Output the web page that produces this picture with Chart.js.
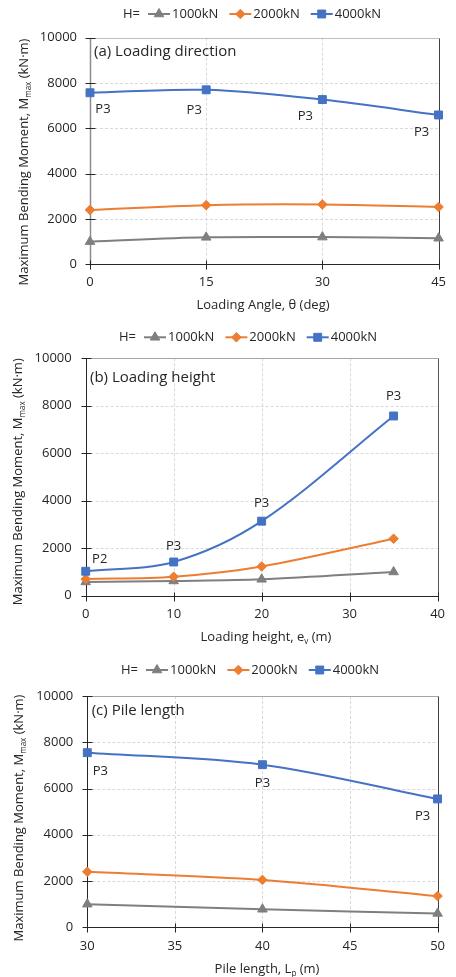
<!DOCTYPE html>
<html><head><meta charset="utf-8">
<script src="https://cdn.jsdelivr.net/npm/chart.js@4/dist/chart.umd.min.js"></script>
<style>
html,body{margin:0;padding:0;background:#fff;width:456px;height:977px;overflow:hidden;}
.wrap{position:absolute;left:0;width:456px;}
canvas{display:block;}
</style></head><body>
<div class="wrap" style="top:0"><canvas id="ca" width="456" height="325"></canvas></div>
<div class="wrap" style="top:325px"><canvas id="cb" width="456" height="325"></canvas></div>
<div class="wrap" style="top:650px"><canvas id="cc" width="456" height="327"></canvas></div>
<script>
// ---------- DATA ----------
const seriesNames = ['1000kN', '2000kN', '4000kN'];
const yTickValues = [0, 2000, 4000, 6000, 8000, 10000];

// (a) Loading direction
const angleDeg = [0, 15, 30, 45];
const angle1000 = [1000, 1190, 1200, 1150];
const angle2000 = [2400, 2610, 2640, 2530];
const angle4000 = [7570, 7700, 7270, 6590];
const angleLabels4000 = ['P3', 'P3', 'P3', 'P3'];

// (b) Loading height
const heightM = [0, 10, 20, 35];
const height1000 = [580, 620, 690, 1000];
const height2000 = [700, 800, 1230, 2400];
const height4000 = [1030, 1420, 3140, 7570];
const heightLabels4000 = ['P2', 'P3', 'P3', 'P3'];

// (c) Pile length
const lengthM = [30, 40, 50];
const length1000 = [1000, 780, 600];
const length2000 = [2400, 2050, 1350];
const length4000 = [7550, 7030, 5550];
const lengthLabels4000 = ['P3', 'P3', 'P3'];

// ---------- STYLE ----------
const FONT = "'Open Sans', 'DejaVu Sans', sans-serif";
const TEXT = '#262626';
const COLORS = ['#7f7f7f', '#ed7d31', '#4472c4'];
const STYLES = ['triangle', 'rectRot', 'rect'];
const RADII = [5.5, 4.8, 5.6];

function drawRich(ctx, segs, x, y, size, color) {
  let w = 0; const ws = [];
  for (const s of segs) {
    ctx.font = (s.sub ? size * 0.62 : size) + 'px ' + FONT;
    const m = ctx.measureText(s.t).width; ws.push(m); w += m;
  }
  let cx = x - w / 2;
  ctx.textAlign = 'left'; ctx.textBaseline = 'alphabetic'; ctx.fillStyle = color;
  const base = y + size * 0.36;
  segs.forEach((s, i) => {
    ctx.font = (s.sub ? size * 0.62 : size) + 'px ' + FONT;
    ctx.fillText(s.t, cx, base + (s.sub ? size * 0.22 : 0));
    cx += ws[i];
  });
}

const decor = {
  id: 'decor',
  beforeDatasetsDraw(chart, args, o) {
    const { ctx, chartArea: a, scales: { x, y } } = chart;
    const L = (x1, y1, x2, y2) => { ctx.beginPath(); ctx.moveTo(x1, y1); ctx.lineTo(x2, y2); ctx.stroke(); };
    ctx.save();
    ctx.lineWidth = 1; ctx.strokeStyle = '#d9d9d9'; ctx.setLineDash([3, 2]);
    x.ticks.forEach(t => { const p = Math.round(x.getPixelForValue(t.value)) + 0.5; if (p > a.left + 2 && p < a.right - 2) L(p, a.top, p, a.bottom); });
    y.ticks.forEach(t => { const p = Math.round(y.getPixelForValue(t.value)) + 0.5; if (p > a.top + 2 && p < a.bottom - 2) L(a.left, p, a.right, p); });
    ctx.setLineDash([]);
    const l = Math.round(a.left) + 0.5, r = Math.round(a.right) + 0.5, t = Math.round(a.top) + 0.5, b = Math.round(a.bottom) + 0.5;
    ctx.strokeStyle = o.topColor; L(l, t, r, t);
    ctx.strokeStyle = o.rightColor; L(r, t, r, b);
    ctx.strokeStyle = o.bottomColor; L(l - 1, b, r, b);
    ctx.lineWidth = o.leftWidth; ctx.strokeStyle = o.leftColor; L(l, t, l, b + 1);
    ctx.lineWidth = 1; ctx.strokeStyle = '#262626';
    y.ticks.forEach(tk => { const p = Math.round(y.getPixelForValue(tk.value)) + 0.5; L(l - 5, p, l + 5, p); });
    x.ticks.forEach(tk => { const p = Math.round(x.getPixelForValue(tk.value)) + 0.5; L(p, b - 4, p, b + 5); });
    ctx.restore();
  },
  afterDatasetsDraw(chart, args, o) {
    const { ctx } = chart;
    ctx.save();
    const meta = chart.getDatasetMeta(o.labelDataset);
    ctx.font = '13px ' + FONT; ctx.fillStyle = TEXT; ctx.textAlign = 'center'; ctx.textBaseline = 'middle';
    o.labels.forEach((txt, i) => {
      const pt = meta.data[i];
      ctx.fillText(txt, pt.x + o.labelOffsets[i][0], pt.y + o.labelOffsets[i][1]);
    });
    ctx.font = '15px ' + FONT; ctx.textAlign = 'left';
    ctx.fillText(o.panelTitle, o.panelPos[0], o.panelPos[1]);
    ctx.font = '13px ' + FONT;
    let lx = o.legendPos[0]; const ly = o.legendPos[1];
    ctx.fillText('H=', lx, ly); lx += ctx.measureText('H=').width + 8;
    chart.data.datasets.forEach((ds, i) => {
      ctx.strokeStyle = ds.borderColor; ctx.fillStyle = ds.backgroundColor; ctx.lineWidth = 2;
      ctx.beginPath(); ctx.moveTo(lx, ly); ctx.lineTo(lx + 22, ly); ctx.stroke();
      ctx.lineWidth = 1;
      Chart.helpers.drawPoint(ctx, { pointStyle: ds.pointStyle, radius: ds.pointRadius, rotation: 0, borderWidth: 1 }, lx + 11, ly);
      lx += 24;
      ctx.fillStyle = TEXT;
      ctx.fillText(ds.label, lx, ly);
      lx += ctx.measureText(ds.label).width + 11;
    });
    drawRich(ctx, o.xTitle, o.xTitlePos[0], o.xTitlePos[1], 13, TEXT);
    ctx.save();
    ctx.translate(o.yTitlePos[0], o.yTitlePos[1]); ctx.rotate(-Math.PI / 2);
    drawRich(ctx, o.yTitle, 0, 0, 13, TEXT);
    ctx.restore();
    ctx.restore();
  }
};

const yTitleSegs = [{ t: 'Maximum Bending Moment, M' }, { t: 'max', sub: true }, { t: ' (kN·m)' }];

function makeChart(id, xs, series, c) {
  const canvas = document.getElementById(id);
  const H = canvas.height, W = canvas.width;
  const datasets = series.map((vals, i) => ({
    label: seriesNames[i],
    data: xs.map((xv, j) => ({ x: xv, y: vals[j] })),
    borderColor: COLORS[i], backgroundColor: COLORS[i],
    borderWidth: 2, tension: 0.33,
    pointStyle: STYLES[i], pointRadius: RADII[i], pointBorderWidth: 1,
    pointBackgroundColor: COLORS[i], pointBorderColor: COLORS[i],
    clip: false, order: 2 - i
  }));
  return new Chart(canvas, {
    type: 'line',
    data: { datasets },
    plugins: [decor],
    options: {
      responsive: false, animation: false, devicePixelRatio: 1,
      layout: { autoPadding: false, padding: { left: 0, top: c.plot.top, right: W - c.plot.right, bottom: 0 } },
      scales: {
        x: {
          type: 'linear', min: c.xMin, max: c.xMax,
          afterFit: s => { s.height = H - c.plot.bottom; },
          afterBuildTicks: s => { s.ticks = c.xTicks.map(v => ({ value: v })); },
          grid: { display: false, drawTicks: false }, border: { display: false },
          ticks: { font: { family: FONT, size: 13 }, color: TEXT, padding: c.xPad, maxRotation: 0, autoSkip: false, callback: v => String(v) }
        },
        y: {
          type: 'linear', min: 0, max: 10000,
          afterFit: s => { s.width = c.plot.left; },
          afterBuildTicks: s => { s.ticks = yTickValues.map(v => ({ value: v })); },
          grid: { display: false, drawTicks: false }, border: { display: false },
          ticks: { font: { family: FONT, size: 13 }, color: TEXT, padding: c.yPad, callback: v => String(v) }
        }
      },
      plugins: {
        legend: { display: false }, tooltip: { enabled: false },
        decor: c.decor
      }
    }
  });
}

makeChart('ca', angleDeg, [angle1000, angle2000, angle4000], {
  xMin: 0, xMax: 45, xTicks: angleDeg,
  plot: { left: 90, right: 439, top: 37.7, bottom: 264.3 }, xPad: 10, yPad: 13,
  decor: {
    topColor: '#bfbfbf', rightColor: '#404040', bottomColor: '#262626', leftColor: '#8c8c8c', leftWidth: 1.5,
    labelDataset: 2, labels: angleLabels4000,
    labelOffsets: [[13, 17], [-12, 20], [-17, 17], [-17, 17]],
    panelTitle: '(a) Loading direction', panelPos: [94, 52],
    legendPos: [123, 14],
    xTitle: [{ t: 'Loading Angle, θ (deg)' }], xTitlePos: [263, 304],
    yTitle: yTitleSegs, yTitlePos: [23, 162]
  }
});

makeChart('cb', heightM, [height1000, height2000, height4000], {
  xMin: 0, xMax: 40, xTicks: [0, 10, 20, 30, 40],
  plot: { left: 85.7, right: 446.7, top: 33.3, bottom: 270.7 }, xPad: 11, yPad: 14,
  decor: {
    topColor: '#a6a6a6', rightColor: '#595959', bottomColor: '#262626', leftColor: '#262626', leftWidth: 1,
    labelDataset: 2, labels: heightLabels4000,
    labelOffsets: [[14, -12], [0, -16], [0, -18], [0, -20]],
    panelTitle: '(b) Loading height', panelPos: [90, 52.7],
    legendPos: [119, 12.3],
    xTitle: [{ t: 'Loading height, e' }, { t: 'v', sub: true }, { t: ' (m)' }], xTitlePos: [266, 311],
    yTitle: yTitleSegs, yTitlePos: [17, 156.7]
  }
});

makeChart('cc', lengthM, [length1000, length2000, length4000], {
  xMin: 30, xMax: 50, xTicks: [30, 35, 40, 45, 50],
  plot: { left: 87.3, right: 446.7, top: 46, bottom: 277.3 }, xPad: 11, yPad: 14,
  decor: {
    topColor: '#a6a6a6', rightColor: '#404040', bottomColor: '#262626', leftColor: '#262626', leftWidth: 1,
    labelDataset: 2, labels: lengthLabels4000,
    labelOffsets: [[13, 19], [0, 19], [-15, 17]],
    panelTitle: '(c) Pile length', panelPos: [91.7, 60.7],
    legendPos: [121, 20],
    xTitle: [{ t: 'Pile length, L' }, { t: 'p', sub: true }, { t: ' (m)' }], xTitlePos: [267, 318],
    yTitle: yTitleSegs, yTitlePos: [18, 168]
  }
});
</script>
</body></html>
